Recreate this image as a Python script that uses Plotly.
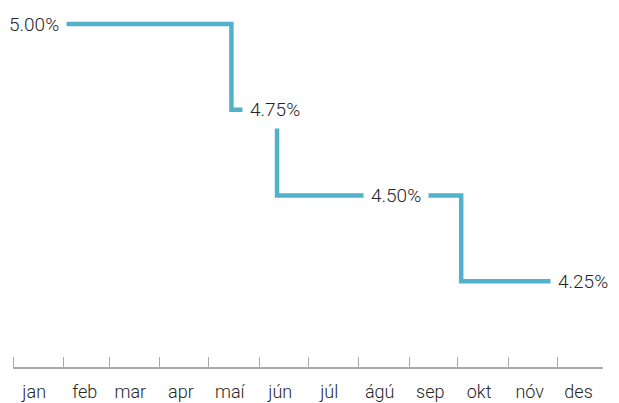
import plotly.graph_objects as go

# manadarheiti (tick labels)
manudir = ['jan', 'feb', 'mar', 'apr', 'maí', 'jún', 'júl', 'ágú', 'sep', 'okt', 'nóv', 'des']
manud_midja = ['2025-%02d-14' % m for m in range(1, 13)]
manud_byrjun = ['2025-%02d-01' % m for m in range(1, 13)]

# stýrivextir - þrep
dagsetningar = ['2025-01-14', '2025-05-15', '2025-06-12', '2025-10-03', '2025-12-17']
vextir = [5.00, 4.75, 4.50, 4.25, 4.25]

# merkingar a linunni
merki_dags = ['2025-01-14', '2025-06-11', '2025-08-24', '2025-12-17']
merki_vextir = [5.00, 4.75, 4.50, 4.25]

LITUR = '#52b2cb'
LETUR = 'Roboto, sans-serif'

fig = go.Figure()
fig.add_trace(go.Scatter(
    x=dagsetningar,
    y=vextir,
    mode='lines',
    line=dict(color=LITUR, width=4.5, shape='hv'),
    hoverinfo='skip',
    showlegend=False,
))

for d, v in zip(merki_dags, merki_vextir):
    fig.add_annotation(
        x=d, y=v,
        text='%.2f%%' % v,
        showarrow=False,
        xanchor='center', yanchor='middle',
        bgcolor='white',
        borderpad=7,
        font=dict(family=LETUR, size=19, color='#262626', weight=300),
    )

fig.update_layout(
    width=619, height=403,
    margin=dict(l=13, r=16, t=10, b=36),
    paper_bgcolor='white',
    plot_bgcolor='white',
    font=dict(family=LETUR, color='#262626'),
)
fig.update_xaxes(
    type='date',
    range=['2025-01-01', '2025-12-29'],
    automargin=False,
    tickmode='array',
    tickvals=manud_midja,
    ticktext=manudir,
    ticks='',
    ticklabelstandoff=8,
    tickfont=dict(family=LETUR, size=18, color='#262626', weight=300),
    showgrid=False,
    zeroline=False,
    showline=True,
    linecolor='#aaaaaa',
    linewidth=1.5,
    minor=dict(
        tickmode='array',
        tickvals=manud_byrjun,
        ticks='inside',
        ticklen=10,
        tickwidth=1,
        tickcolor='#aaaaaa',
        showgrid=False,
    ),
)
fig.update_yaxes(
    range=[4.0, 5.041],
    automargin=False,
    visible=False,
    showgrid=False,
    zeroline=False,
)

fig.write_html('out.html', config={'displayModeBar': False},
               post_script="document.body.style.margin='0';")
